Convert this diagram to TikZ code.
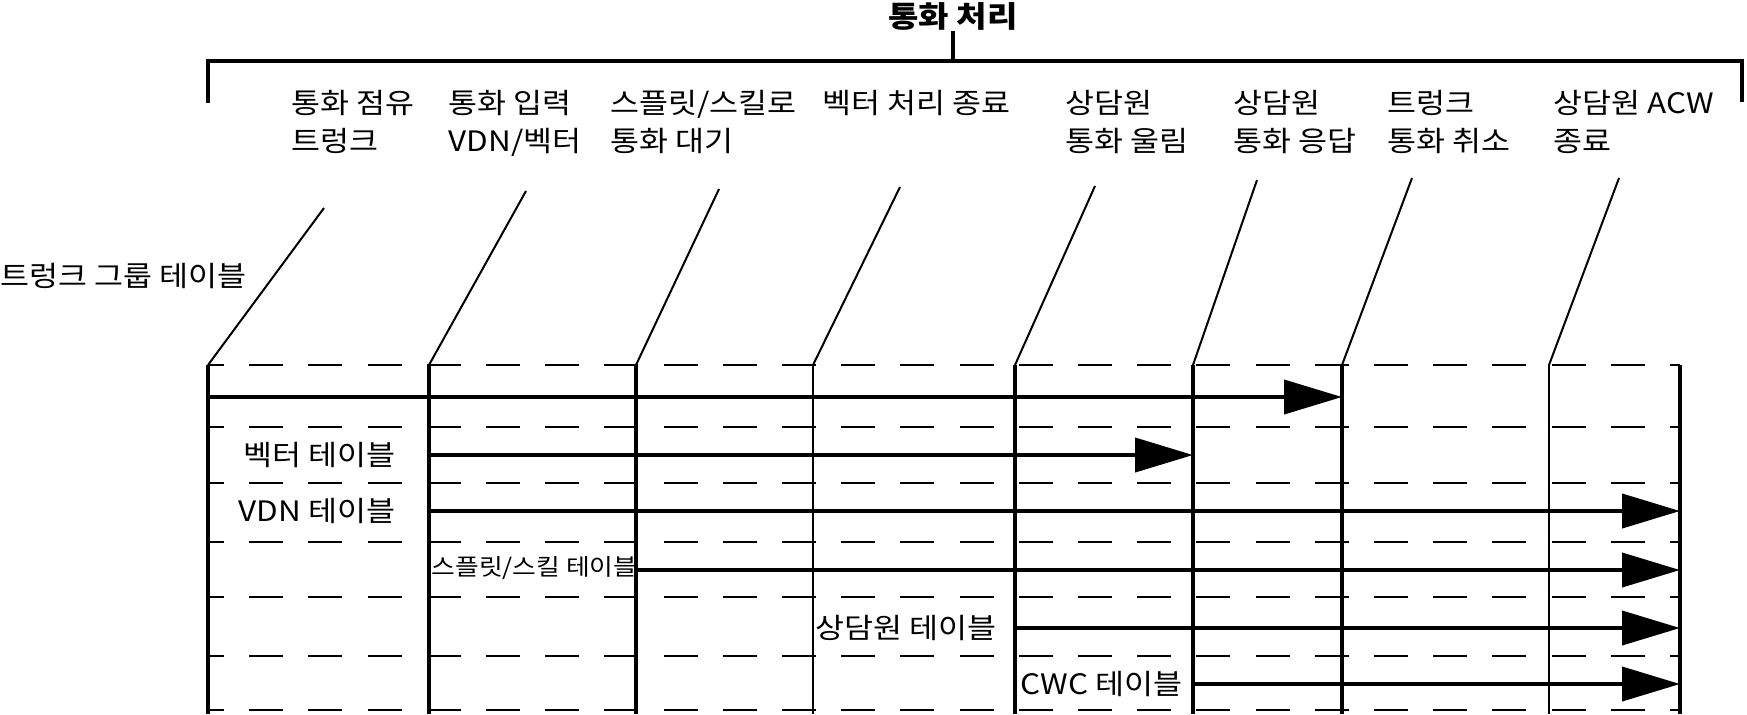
\documentclass[tikz,border=0pt]{standalone}
\usepackage{fontspec}
\setmainfont{Noto Sans CJK KR}[FakeStretch=1.12]
\usetikzlibrary{arrows.meta}

\begin{document}
\begin{tikzpicture}[x=0.1mm,y=-0.1mm,
  lbl/.style={anchor=north west,inner sep=0,align=left,font=\fontsize{8}{10.8}\selectfont},
  tbl/.style={anchor=west,inner sep=0,font=\fontsize{8}{10}\selectfont},
  flow/.style={line width=0.4mm,-{Triangle[length=5.8mm,width=3.4mm]}}]
\useasboundingbox (0,0) rectangle (1747,714);
% bracket over the whole call
\draw[line width=0.4mm] (208,103) -- (208,61) -- (1742,61) -- (1742,102);
\draw[line width=0.4mm] (953,61) -- (953,31);
\node[anchor=base,inner sep=0,font=\fontsize{8.4}{10}\selectfont\bfseries] (title) at (953,27) {통화 처리};

% event labels
\node[lbl] (seize) at (291,90) {통화 점유\\트렁크};
\node[lbl] (vdn) at (448,90) {통화 입력\\VDN/벡터};
\node[lbl] (queue) at (610,90) {스플릿/스킬로\\통화 대기};
\node[lbl] (vecend) at (822,90) {벡터 처리 종료};
\node[lbl] (ring) at (1065,90) {상담원\\통화 울림};
\node[lbl] (answer) at (1233,90) {상담원\\통화 응답};
\node[lbl] (abandon) at (1387,90) {트렁크\\통화 취소};
\node[lbl] (acw) at (1553,90) {상담원 ACW\\종료};

% slanted leaders
\foreach \xt/\yt/\xb in {324/208/208, 526/191/429, 719/189/636, 900/187/813,
                         1095/186/1015, 1257/180/1193, 1412/178/1342, 1619/178/1549}
  \draw[line width=0.2mm] (\xt,\yt) -- (\xb,365);

% time lines
\foreach \x in {208,429,636,1015,1193,1342,1680}
  \draw[line width=0.4mm] (\x,365) -- (\x,714);
\foreach \x in {813,1549}
  \draw[line width=0.2mm] (\x,365) -- (\x,714);

% table rows
\foreach \y in {365,427,483,542,597,656,710}
  \draw[line width=0.25mm,dash pattern=on 3.4mm off 2.52mm,dash phase=1.8mm] (208,\y) -- (1680,\y);

% table labels
\node[tbl] (trunkgrp) at (0,276) {트렁크 그룹 테이블};
\node[tbl] (vectbl) at (243,455) {벡터 테이블};
\node[tbl] (vdntbl) at (238,511) {VDN 테이블};
\node[tbl,font=\fontsize{6.55}{8}\selectfont] (splittbl) at (431,568) {스플릿/스킬 테이블};
\node[tbl] (agenttbl) at (815,628) {상담원 테이블};
\node[tbl] (cwctbl) at (1020,684) {CWC 테이블};

% table updates
\draw[flow] (208,397) -- (1342,397);
\draw[flow] (429,455) -- (1193,455);
\draw[flow] (429,511) -- (1680,511);
\draw[flow] (636,570) -- (1680,570);
\draw[flow] (1015,628) -- (1680,628);
\draw[flow] (1193,684) -- (1680,684);
\end{tikzpicture}
\end{document}
